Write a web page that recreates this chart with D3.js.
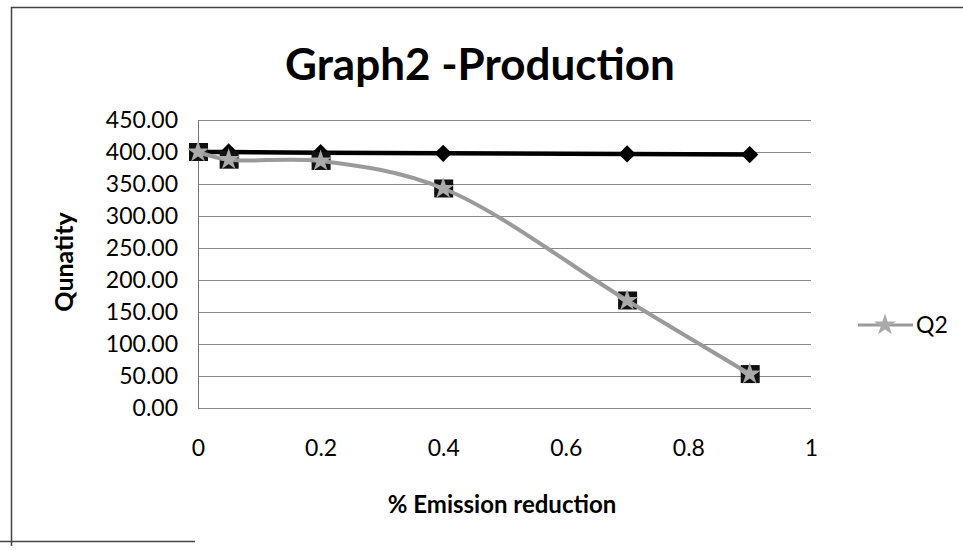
<!DOCTYPE html>
<html>
<head>
<meta charset="utf-8">
<script src="https://cdn.jsdelivr.net/npm/d3@7"></script>
<style>
  body { margin: 0; background: #fff; }
  text { font-family: Lato, "Open Sans", sans-serif; fill: #000; }
</style>
</head>
<body>
<div id="chart"></div>
<script>
// data
var xValues = [0, 0.05, 0.2, 0.4, 0.7, 0.9];
var q1Values = [400, 400, 399, 398, 397, 396];
var q2Values = [400, 388, 386, 343, 168, 53];
var yTicks = [0, 50, 100, 150, 200, 250, 300, 350, 400, 450];
var xTicks = [0, 0.2, 0.4, 0.6, 0.8, 1];

var width = 963, height = 550;
var margin = { top: 120, right: 152, bottom: 142, left: 198 };

var svg = d3.select("#chart").append("svg")
    .attr("width", width)
    .attr("height", height);

// outer chart border (scanned, only partly visible)
svg.append("path")
    .attr("d", "M11.5,546 V7.5 H963 M0,541.5 H195")
    .attr("fill", "none")
    .attr("stroke", "#444")
    .attr("stroke-width", 1.5);

var xScale = d3.scaleLinear().domain([0, 1]).range([margin.left, width - margin.right]);
var yScale = d3.scaleLinear().domain([0, 450]).range([height - margin.bottom, margin.top]);

//gridlines
svg.append("g")
    .selectAll("line")
    .data(yTicks)
    .enter()
    .append("line")
    .attr("x1", xScale(0))
    .attr("x2", xScale(1))
    .attr("y1", d => yScale(d) + 0.5)
    .attr("y2", d => yScale(d) + 0.5)
    .attr("stroke", "#888")
    .attr("stroke-width", 1);

// left axis line
svg.append("line")
    .attr("x1", xScale(0) + 0.5).attr("x2", xScale(0) + 0.5)
    .attr("y1", yScale(450)).attr("y2", yScale(0))
    .attr("stroke", "#777");

// y tick labels
var yAxis = d3.axisLeft(yScale).tickValues(yTicks).tickFormat(d3.format(".2f")).tickSize(0).tickPadding(20);
svg.append("g")
    .attr("transform", "translate(" + xScale(0) + ",0)")
    .call(yAxis)
    .call(g => g.select(".domain").remove())
    .selectAll("text")
    .style("font-family", "Lato, 'Open Sans', sans-serif")
    .style("font-size", "23px");

// x tick labels
var xAxis = d3.axisBottom(xScale).tickValues(xTicks).tickFormat(d => d3.format("")(d)).tickSize(0).tickPadding(32);
svg.append("g")
    .attr("transform", "translate(0," + yScale(0) + ")")
    .call(xAxis)
    .call(g => g.select(".domain").remove())
    .selectAll("text")
    .style("font-family", "Lato, 'Open Sans', sans-serif")
    .style("font-size", "23px");

var pts1 = xValues.map((x, i) => [x, q1Values[i]]);
var pts2 = xValues.map((x, i) => [x, q2Values[i]]);

// black diamond series
svg.append("path")
    .datum(pts1)
    .attr("fill", "none")
    .attr("stroke", "#000")
    .attr("stroke-width", 4.5)
    .attr("d", d3.line().x(d => xScale(d[0])).y(d => yScale(d[1])));

svg.append("g").selectAll("path")
    .data(pts1)
    .enter()
    .append("path")
    .attr("transform", d => "translate(" + xScale(d[0]) + "," + yScale(d[1]) + ")")
    .attr("d", d3.symbol().type(d3.symbolDiamond2).size(190))
    .attr("fill", "#000");

// black squares under Q2
svg.append("g").selectAll("rect")
    .data(pts2)
    .enter()
    .append("rect")
    .attr("x", d => xScale(d[0]) - 9)
    .attr("y", d => yScale(d[1]) - 9)
    .attr("width", 19)
    .attr("height", 18)
    .attr("fill", "#111");

// Q2 smooth gray line
svg.append("path")
    .datum(pts2)
    .attr("fill", "none")
    .attr("stroke", "#9a9a9a")
    .attr("stroke-width", 4)
    .attr("d", d3.line().curve(d3.curveCatmullRom.alpha(0.5)).x(d => xScale(d[0])).y(d => yScale(d[1])));

var star = d3.symbol().type(d3.symbolStar).size(150);
svg.append("g").selectAll("path")
    .data(pts2)
    .enter()
    .append("path")
    .attr("transform", d => "translate(" + xScale(d[0]) + "," + yScale(d[1]) + ")")
    .attr("d", star)
    .attr("fill", "#aaa");

// legend
var lg = svg.append("g").attr("transform", "translate(858,325)");
lg.append("line").attr("x1", 0).attr("x2", 55).attr("y1", 0).attr("y2", 0)
    .attr("stroke", "#9a9a9a").attr("stroke-width", 3);
lg.append("path").attr("transform", "translate(27,0)").attr("d", star).attr("fill", "#aaa");
lg.append("text").attr("x", 58).attr("y", 8).style("font-size", "23px").text("Q2");

// titles
svg.append("text")
    .attr("x", 480).attr("y", 80)
    .attr("text-anchor", "middle")
    .style("font-size", "44px").style("font-weight", "bold")
    .text("Graph2 -Production");

svg.append("text")
    .attr("x", 502).attr("y", 513)
    .attr("text-anchor", "middle")
    .style("font-size", "24px").style("font-weight", "bold")
    .text("% Emission reduction");

svg.append("text")
    .attr("transform", "translate(73,262) rotate(-90)")
    .attr("text-anchor", "middle")
    .style("font-size", "25px").style("font-weight", "bold")
    .text("Qunatity");
</script>
</body>
</html>
